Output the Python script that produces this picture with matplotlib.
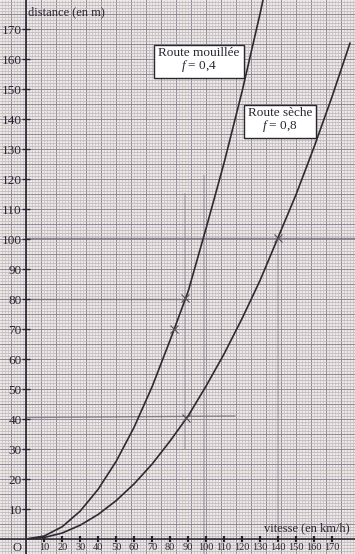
import numpy as np
import matplotlib
matplotlib.use("Agg")
import matplotlib.pyplot as plt

# ---- data ----
speed = [0, 10, 20, 30, 40, 50, 60, 70, 80, 90, 100, 110, 120, 130, 140, 150, 160, 170, 180]
dist_dry = [0, 0.5, 2.0, 4.6, 8.2, 12.8, 18.4, 25.0, 32.7, 41.0, 51.0, 61.7, 73.5, 86.2, 100.5, 114.8, 130.6, 147.4, 165.3]
speed_wet = [0, 10, 20, 30, 40, 50, 60, 70, 80, 90, 100, 110, 120, 130, 140]
dist_wet = [0, 1.0, 4.1, 9.3, 16.6, 25.9, 37.3, 50.8, 66.3, 82.5, 103.6, 125.4, 149.2, 175.1, 203.0]

x_ticks = [10, 20, 30, 40, 50, 60, 70, 80, 90, 100, 110, 120, 130, 140, 150, 160, 170]
y_ticks = [10, 20, 30, 40, 50, 60, 70, 80, 90, 100, 110, 120, 130, 140, 150, 160, 170]

label_wet = ["Route mouillée", "$f$ = 0,4"]
label_dry = ["Route sèche", "$f$ = 0,8"]
xlabel = "vitesse (en km/h)"
ylabel = "distance (en m)"

# construction (pencil) marks: (x0, x1, y0, y1)
guide_h = [(0, 183, 100.5, 100.5), (0, 90, 80, 80), (0, 116, 40.5, 41)]
guide_v = [(140, 140, 0, 100.5), (99, 99, -5, 121), (88, 88, 30, 115)]
marks = [(88, 80.5), (82, 70), (89, 40.5), (140, 100.5)]

plt.rcParams['font.family'] = ['Liberation Serif', 'DejaVu Serif']
plt.rcParams['mathtext.fontset'] = 'custom'
plt.rcParams['mathtext.it'] = 'Liberation Serif:italic'
plt.rcParams['mathtext.rm'] = 'Liberation Serif'

W, H = 355, 554
fig = plt.figure(figsize=(W / 100, H / 100), dpi=100)
fig.patch.set_facecolor('#ebe8e5')
ax = fig.add_axes([0, 0, 1, 1])
ax.set_facecolor('#ebe8e5')

x0, x1 = -14.6, 182.8
y0, y1 = -5.0, 179.7
ax.set_xlim(x0, x1)
ax.set_ylim(y0, y1)

# graph paper (3 px mm grid)
step = 10 / 6
for k in range(int(np.floor(x0 / step)), int(np.ceil(x1 / step)) + 1):
    xx = k * step
    if k % 5 == 0:
        ax.axvline(xx, color='#8c8490', lw=0.65, zorder=0)
    else:
        ax.axvline(xx, color='#b3abb5', lw=0.5, ls=(0, (1.2, 0.8)), zorder=0)
for yv in range(-5, 181):
    if yv % 5 == 0:
        ax.axhline(yv, color='#8c8490', lw=0.65, zorder=0)
    else:
        ax.axhline(yv, color='#bab2bb', lw=0.5, zorder=0)

# pencil construction lines
for (a, b, c, d) in guide_h:
    ax.plot([a, b], [c, d], color='#6f6a72', lw=1.0, alpha=0.75, zorder=1)
for (a, b, c, d) in guide_v:
    ax.plot([a, b], [c, d], color='#8d8890', lw=1.3, alpha=0.5, zorder=1)

# curves
ax.plot(speed, dist_dry, color='#2e2a30', lw=1.2, zorder=3)
ax.plot(speed_wet, dist_wet, color='#2e2a30', lw=1.2, zorder=3)
for (mx, my) in marks:
    ax.plot([mx], [my], marker='x', color='#555055', ms=6, mew=0.8, zorder=4)

# axes through origin
for s in ['top', 'right']:
    ax.spines[s].set_visible(False)
ax.spines['left'].set_position(('data', 0))
ax.spines['bottom'].set_position(('data', 0))
ax.spines['left'].set_color('#24222f')
ax.spines['bottom'].set_color('#24222f')
ax.spines['left'].set_linewidth(1.2)
ax.spines['bottom'].set_linewidth(1.1)

ax.set_xticks(x_ticks)
ax.set_xticklabels([str(v) for v in x_ticks])
ax.set_yticks(y_ticks)
ax.set_yticklabels([str(v) for v in y_ticks])
ax.tick_params(axis='y', direction='inout', length=6, width=1.0, color='#26222e',
               labelsize=9.5, pad=0.3, labelcolor='#2a2630')
ax.tick_params(axis='x', direction='inout', length=4, width=1.6, color='#26222e',
               labelsize=7.5, pad=1.0, labelcolor='#2a2630')

ax.text(-2.5, -1.0, "O", ha='right', va='top', fontsize=9, color='#2a2630')
ax.text(1.2, 177.5, ylabel, ha='left', va='top', fontsize=9, color='#2a2630')
ax.text(180, 1.5, xlabel, ha='right', va='bottom', fontsize=9, color='#2a2630')

bbox = dict(boxstyle='square,pad=0.3', fc='white', ec='#2a2630', lw=1.0)
ax.text(96, 159.5, "\n".join(label_wet), ha='center', va='center', fontsize=9.5,
        linespacing=0.95, color='#2a2630', bbox=bbox, zorder=5)
ax.text(141, 139.5, "\n".join(label_dry), ha='center', va='center', fontsize=9.5,
        linespacing=0.95, color='#2a2630', bbox=bbox, zorder=5)

fig.savefig("out.png", dpi=100, facecolor=fig.get_facecolor())
